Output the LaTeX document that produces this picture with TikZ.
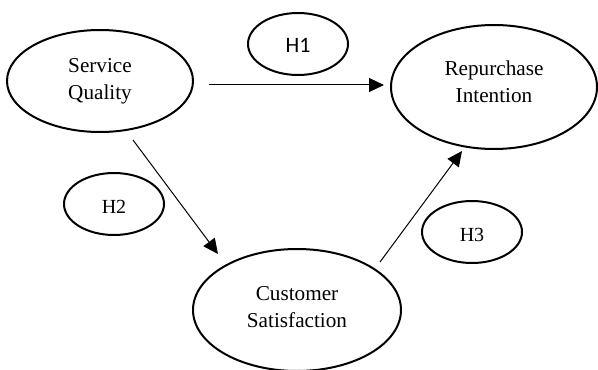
\documentclass[tikz,border=0pt]{standalone}
\usepackage{fontspec}
\setmainfont{Liberation Serif}
\newfontfamily\hfont{Carlito}
\usetikzlibrary{shapes.geometric,arrows.meta}
\begin{document}
\begin{tikzpicture}[x=0.5pt,y=-0.5pt,
  construct/.style={draw,ellipse,line width=1pt,inner sep=0pt,align=center,
    font=\fontsize{10.6}{13.5}\selectfont},
  hyp/.style={draw,ellipse,line width=1pt,inner sep=0pt,
    minimum width=50pt,minimum height=31pt,text height=9pt,text depth=0pt,
    font=\fontsize{10}{12}\selectfont},
  path/.style={line width=0.5pt,-{Triangle[length=7.5pt,width=7pt]}}]
\useasboundingbox (0,0) rectangle (598,369);
\node[construct,minimum width=93pt,minimum height=51pt] (sq) at (100,81) {Service\\Quality};
\node[construct,minimum width=103pt,minimum height=62pt,text depth=5pt] (ri) at (494,87) {Repurchase\\Intention};
\node[construct,minimum width=104pt,minimum height=61pt,text depth=3pt] (cs) at (297,310) {Customer\\Satisfaction};
\node[hyp,font=\hfont\fontsize{11}{13}\selectfont] (h1) at (298,44) {H1};
\node[hyp] (h2) at (114,204) {H2};
\node[hyp] (h3) at (472,232) {H3};
\coordinate (a1) at (209,85);
\coordinate (b1) at (384,85);
\coordinate (a2) at (133,140);
\coordinate (b2) at (218,254);
\coordinate (a3) at (380,262);
\coordinate (b3) at (462,151);
\draw[path] (a1) -- (b1);
\draw[path] (a2) -- (b2);
\draw[path] (a3) -- (b3);
\end{tikzpicture}
\end{document}
